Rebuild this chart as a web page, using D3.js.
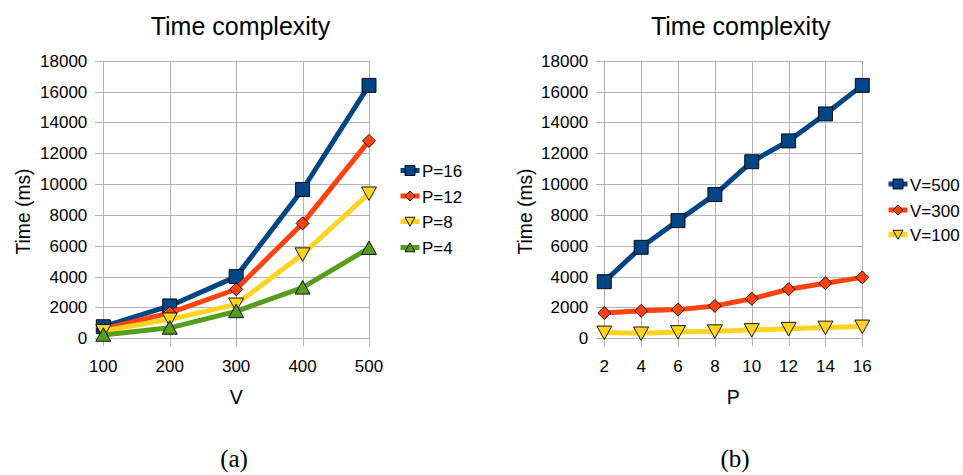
<!DOCTYPE html>
<html>
<head>
<meta charset="utf-8">
<script src="https://cdn.jsdelivr.net/npm/d3@7"></script>
<style>
  html, body { margin: 0; padding: 0; background: #fff; }
  svg { display: block; }
  text { font-family: "Liberation Sans", Arial, sans-serif; fill: #000; }
</style>
</head>
<body>
<svg id="chart" width="963" height="475"></svg>
<script>
// Panel (a): time vs V for several P
const vValues = [100, 200, 300, 400, 500];
const p16 = [750, 2100, 4000, 9650, 16400];
const p12 = [600, 1650, 3180, 7450, 12800];
const p8  = [480, 1230, 2200, 5450, 9400];
const p4  = [220, 680, 1750, 3280, 5850];

// Panel (b): time vs P for several V
const pValues = [2, 4, 6, 8, 10, 12, 14, 16];
const v500 = [3670, 5900, 7630, 9320, 11450, 12800, 14550, 16400];
const v300 = [1640, 1780, 1860, 2100, 2560, 3180, 3570, 3950];
const v100 = [380, 320, 410, 460, 540, 620, 700, 770];

const yTicks = [0, 2000, 4000, 6000, 8000, 10000, 12000, 14000, 16000, 18000];

const colors = { blue: "#004586", orange: "#ff420e", yellow: "#ffd320", green: "#579d1c" };

const svg = d3.select("#chart");

// marker path generators centred on (0,0)
function markerPath(shape, s) {
  const h = s / 2;
  switch (shape) {
    case "square": return `M${-h},${-h}H${h}V${h}H${-h}Z`;
    case "diamond": return `M0,${-h}L${h},0L0,${h}L${-h},0Z`;
    case "triDown": return `M${-h},${-h * 0.85}L${h},${-h * 0.85}L0,${h * 0.95}Z`;
    case "triUp": return `M${-h},${h * 0.85}L${h},${h * 0.85}L0,${-h * 0.95}Z`;
  }
}
const markerSize = { square: 14, diamond: 13, triDown: 15, triUp: 15 };
const legendSize = { square: 10, diamond: 10, triDown: 10, triUp: 10 };

function panel(opt) {
  const g = svg.append("g");
  const x = d3.scaleLinear().domain(opt.xDomain).range([opt.x0, opt.x1]);
  const y = d3.scaleLinear().domain([0, 18000]).range([338.3, 60.7]);

  // grid + tick marks
  const grid = g.append("g").attr("stroke", "#b3b3b3").attr("stroke-width", 1).attr("shape-rendering", "crispEdges");
  grid.selectAll(".h").data(yTicks).enter().append("line")
    .attr("x1", opt.x0 - 8).attr("x2", opt.x1)
    .attr("y1", d => Math.round(y(d)) + 0.5).attr("y2", d => Math.round(y(d)) + 0.5);
  grid.selectAll(".v").data(opt.xTicks).enter().append("line")
    .attr("y1", y(18000)).attr("y2", y(0) + 8)
    .attr("x1", d => Math.round(x(d)) + 0.5).attr("x2", d => Math.round(x(d)) + 0.5);

  // tick labels
  g.append("g").selectAll("text").data(yTicks).enter().append("text")
    .attr("x", opt.x0 - 16).attr("y", d => y(d) + 6)
    .attr("text-anchor", "end").attr("font-size", 17).text(d => d);
  g.append("g").selectAll("text").data(opt.xTicks).enter().append("text")
    .attr("x", d => x(d)).attr("y", 371.7)
    .attr("text-anchor", "middle").attr("font-size", 17).text(d => d);

  // titles
  const cx = (opt.x0 + opt.x1) / 2;
  g.append("text").attr("x", opt.titleX).attr("y", 35).attr("text-anchor", "middle")
    .attr("font-size", 25).text("Time complexity");
  g.append("text").attr("x", cx).attr("y", 403.5).attr("text-anchor", "middle")
    .attr("font-size", 19.5).text(opt.xLabel);
  g.append("text").attr("transform", `translate(${opt.yLabelX},211.5) rotate(-90)`)
    .attr("text-anchor", "middle").attr("font-size", 19.3).text("Time (ms)");
  g.append("text").attr("x", opt.capX).attr("y", 467).attr("text-anchor", "middle")
    .style("font-family", "'Liberation Serif', 'DejaVu Serif', serif")
    .attr("font-size", 25).text(opt.caption);

  const line = d3.line().x((d, i) => x(opt.xValues[i])).y(d => y(d));

  opt.series.forEach(s => {
    g.append("path").datum(s.values).attr("d", line)
      .attr("fill", "none").attr("stroke", s.color).attr("stroke-width", 5)
      .attr("stroke-linejoin", "round");
    g.append("g").selectAll("path").data(s.values).enter().append("path")
      .attr("transform", (d, i) => `translate(${x(opt.xValues[i])},${y(d)})`)
      .attr("d", markerPath(s.shape, markerSize[s.shape]))
      .attr("fill", s.color).attr("stroke", "#000").attr("stroke-width", 0.9);
  });

  // legend
  const lg = g.append("g");
  opt.series.forEach((s, i) => {
    const ly = opt.legendY[i];
    lg.append("rect").attr("x", opt.legendX).attr("y", ly - 2.5).attr("width", 19).attr("height", 5)
      .attr("fill", s.color);
    lg.append("path").attr("transform", `translate(${opt.legendX + 9.5},${ly})`)
      .attr("d", markerPath(s.shape, legendSize[s.shape]))
      .attr("fill", s.color).attr("stroke", "#000").attr("stroke-width", 0.9);
    lg.append("text").attr("x", opt.legendX + 21.5).attr("y", ly + 6.5)
      .attr("font-size", 17).text(s.name);
  });
}

panel({
  xDomain: [100, 500], x0: 103.3, x1: 369, xTicks: vValues, xValues: vValues,
  xLabel: "V", titleX: 240.5, yLabelX: 30, capX: 234, caption: "(a)",
  legendX: 400.5, legendY: [170.5, 196, 221.5, 247.5],
  series: [
    { name: "P=16", values: p16, color: colors.blue, shape: "square" },
    { name: "P=12", values: p12, color: colors.orange, shape: "diamond" },
    { name: "P=8", values: p8, color: colors.yellow, shape: "triDown" },
    { name: "P=4", values: p4, color: colors.green, shape: "triUp" }
  ]
});

panel({
  xDomain: [2, 16], x0: 604.3, x1: 862.3, xTicks: pValues, xValues: pValues,
  xLabel: "P", titleX: 740.8, yLabelX: 532, capX: 735, caption: "(b)",
  legendX: 888.5, legendY: [184, 210, 234.5],
  series: [
    { name: "V=500", values: v500, color: colors.blue, shape: "square" },
    { name: "V=300", values: v300, color: colors.orange, shape: "diamond" },
    { name: "V=100", values: v100, color: colors.yellow, shape: "triDown" }
  ]
});
</script>
</body>
</html>
